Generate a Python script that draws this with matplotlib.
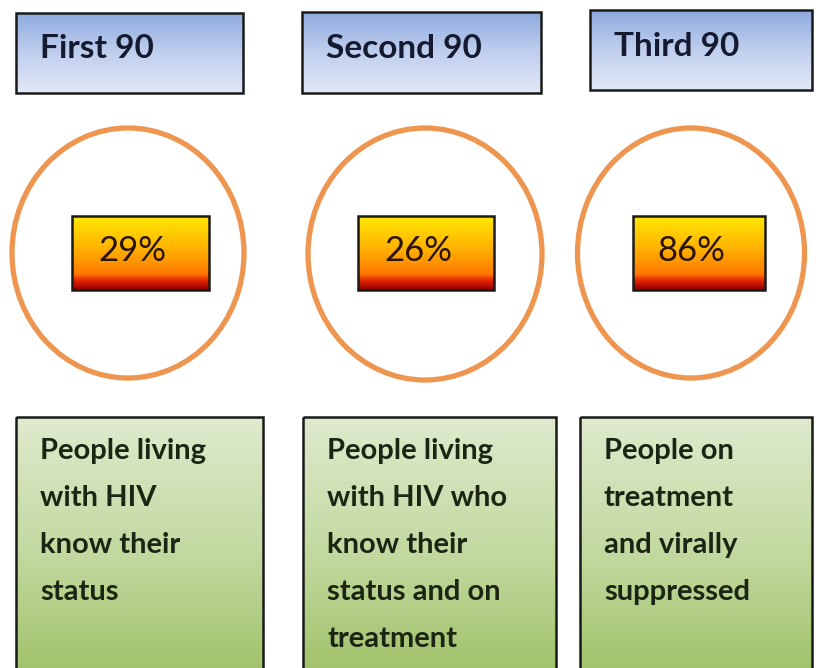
import numpy as np
import matplotlib.pyplot as plt
from matplotlib.patches import Rectangle, Ellipse
from matplotlib.colors import LinearSegmentedColormap

# data
headers = ['First 90', 'Second 90', 'Third 90']
pct = [29, 26, 86]
descriptions = [
    ['People living', 'with HIV', 'know their', 'status'],
    ['People living', 'with HIV who', 'know their', 'status and on', 'treatment'],
    ['People on', 'treatment', 'and virally', 'suppressed'],
]

# layout (pixels)
head_boxes = [(16, 13, 243, 93), (302, 12, 541, 93), (590, 10, 812, 90)]
circles = [(128, 253, 232, 250), (425, 254, 234, 252), (691, 253, 227, 250)]
pct_boxes = [(72, 216, 209, 290), (358, 216, 494, 290), (633, 216, 765, 290)]
green_boxes = [(16, 417, 263, 690), (303, 417, 556, 690), (580, 417, 812, 690)]

W, H = 821, 668
fig = plt.figure(figsize=(W / 100, H / 100), dpi=100)
ax = fig.add_axes([0, 0, 1, 1])
ax.set_xlim(0, W)
ax.set_ylim(H, 0)
ax.axis('off')

blue = LinearSegmentedColormap.from_list('b', ['#8eaade', '#c0cfee', '#e2e8f6'])
fire = LinearSegmentedColormap.from_list(
    'f', [(0, '#ffe800'), (0.45, '#ffb000'), (0.78, '#ff7a00'), (0.88, '#e02000'), (1, '#8a0000')])
green = LinearSegmentedColormap.from_list('g', ['#dfeacd', '#c2d9a0', '#9cbf62'])

grad = np.linspace(0, 1, 256).reshape(-1, 1)


def box(x0, y0, x1, y1, cmap, lw=1.8, z=2):
    ax.imshow(grad, cmap=cmap, extent=(x0, x1, y1, y0), aspect='auto', zorder=z, interpolation='bilinear')
    ax.add_patch(Rectangle((x0, y0), x1 - x0, y1 - y0, fill=False, ec='#1a1a1a', lw=lw, zorder=z + 1))


font = 'Lato'

for i in range(3):
    x0, y0, x1, y1 = head_boxes[i]
    box(x0, y0, x1, y1, blue)
    ax.text(x0 + 24, (y0 + y1) / 2 - 4, headers[i], fontsize=24, fontweight='bold', family=font,
            color='#141a30', va='center', ha='left', zorder=5)

    cx, cy, w, h = circles[i]
    ax.add_patch(Ellipse((cx, cy), w, h, fill=False, ec='#ee9650', lw=3.8, zorder=2))

    x0, y0, x1, y1 = pct_boxes[i]
    box(x0, y0, x1, y1, fire)
    ax.text((x0 + x1) / 2 - 8, (y0 + y1) / 2 - 2, f'{pct[i]}%', fontsize=25, family=font,
            color='#2a1408', va='center', ha='center', zorder=5)

    x0, y0, x1, y1 = green_boxes[i]
    box(x0, y0, x1, y1, green)
    for j, line in enumerate(descriptions[i]):
        ax.text(x0 + 24, 451 + j * 47, line, fontsize=21, fontweight='bold', family=font,
                color='#1c2414', va='center', ha='left', zorder=5)

fig.savefig('out.png', dpi=100)
